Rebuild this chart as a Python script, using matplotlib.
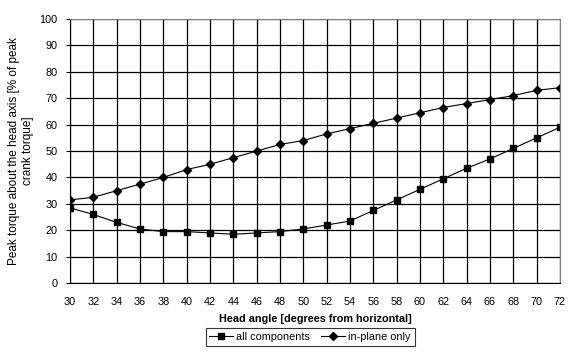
import matplotlib
matplotlib.use('Agg')
import matplotlib.pyplot as plt

# данные
angles = [30, 32, 34, 36, 38, 40, 42, 44, 46, 48, 50, 52, 54, 56, 58, 60, 62, 64, 66, 68, 70, 72]
all_components = [28.5, 26, 23, 20.5, 19.5, 19.5, 19, 18.5, 19, 19.5, 20.5, 22, 23.5, 27.5,
                  31.5, 35.5, 39.5, 43.5, 47, 51, 55, 59]
in_plane = [31.5, 32.5, 35, 37.5, 40, 43, 45, 47.5, 50, 52.5, 54, 56.5, 58.5, 60.5, 62.5,
            64.5, 66.5, 68, 69.5, 71, 73, 74]

plt.rcParams['font.family'] = ['Liberation Sans', 'DejaVu Sans']

fig = plt.figure(figsize=(5.76, 3.53), dpi=100)
ax = fig.add_axes([0.1215, 0.198, 0.8505, 0.748])

ax.plot(angles, all_components, color='black', lw=0.8, marker='s', ms=5, label='all components')
ax.plot(angles, in_plane, color='black', lw=0.8, marker='D', ms=4.5, label='in-plane only')

ax.set_xlim(30, 72)
ax.set_ylim(0, 100)
ax.set_xticks(angles)
ax.set_yticks(range(0, 101, 10))
ax.grid(True, color='black', lw=0.9)
ax.set_axisbelow(True)
ax.tick_params(labelsize=7.8, length=3, width=0.8, direction='out', pad=6)
ax.tick_params(axis='x', length=0, pad=10)

for side in ['top', 'right']:
    ax.spines[side].set_color('#808080')
for side in ['left', 'bottom']:
    ax.spines[side].set_color('black')

ax.set_xlabel('Head angle [degrees from horizontal]', fontsize=7.8, fontweight='bold', labelpad=5)
ax.set_ylabel('Peak torque about the head axis [% of peak\ncrank torque]', fontsize=8.5,
              labelpad=4, multialignment='center', linespacing=1.15)

leg = ax.legend(loc='upper center', bbox_to_anchor=(0.49, -0.15), ncol=2, fontsize=7.8,
                frameon=True, fancybox=False, edgecolor='black', handlelength=2.2,
                columnspacing=1.0, handletextpad=0.3, borderpad=0.35)
leg.get_frame().set_linewidth(0.8)

fig.savefig('out.png', dpi=100)
